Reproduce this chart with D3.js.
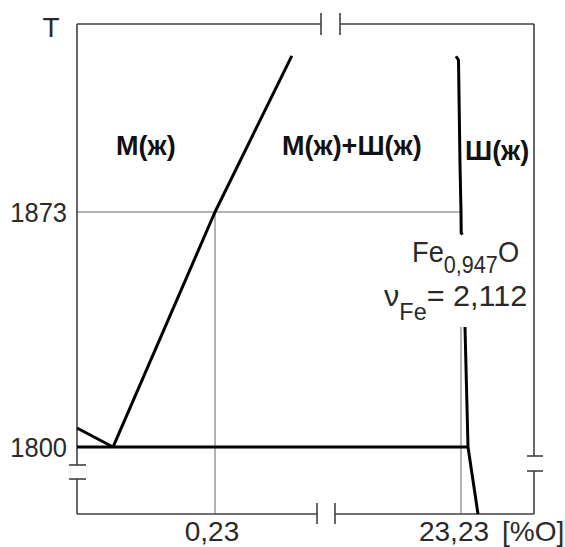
<!DOCTYPE html>
<html><head><meta charset="UTF-8">
<script src="https://d3js.org/d3.v7.min.js"></script>
<style>
body{margin:0;background:#fff}
svg{display:block}
.frame{fill:none;stroke:#404040;stroke-width:1.6}
.guide{fill:none;stroke:#9a9a9a;stroke-width:1.5}
.curve{fill:none;stroke:#000;stroke-width:3;stroke-linejoin:round}
.lbl{font-family:"Liberation Sans",Arial,sans-serif;font-size:28px;fill:#2a2a2a}
.phase{font-family:"Liberation Sans",Arial,sans-serif;font-size:27px;font-weight:bold;fill:#111}
</style></head><body><div id="chart"></div><script>
// temperature ticks (K) and composition ticks (% O)
const tempTicks = [1800, 1873];
const compTicks = [0.23, 23.23];
const compUnit = "[%O]";

// phase boundaries, [%O, T]
const solidusLeft = [[0, 1805.9], [0.06, 1800]];
const liquidus = [[0.06, 1800], [0.23, 1873], [0.358, 1921.5]];
const monotectic = [[0, 1800], [23.30, 1800]];
const slagUpper = [[23.18, 1921.4], [23.205, 1920.2], [23.22, 1887.8], [23.23, 1873], [23.232, 1866.5], [23.245, 1866]];
const slagLower = [[23.27, 1837.3], [23.30, 1800], [23.40, 1779.2]];

// guide lines through the 1873 K points
const guide1873 = [[0, 1873], [23.23, 1873]];
const guideLeft = [[0.23, 1873], [0.23, 1779.2]];
const guideRight = [[23.23, 1837.3], [23.23, 1779.2]];

const W = 565, H = 547;
const L = 77, R = 534, T = 24, B = 514;

const svg = d3.select("#chart").append("svg").attr("width", W).attr("height", H);

// broken x axis: low-oxygen metal side, then slag side
const x = d3.scaleLinear().domain([0, 0.41, 22.0, 23.96]).range([L, 323, 338, R]);
const y = d3.scaleLinear().domain([1931.4, 1779.2]).range([T, B]);
const line = d3.line().x(d => x(d[0])).y(d => y(d[1]));

// text squeezed a little sideways, like the narrow font of the original
const label = (px, py, anchor, k = 0.9) => svg.append("g")
  .attr("transform", `translate(${px},${py}) scale(${k},1)`)
  .append("text").attr("class", "lbl").attr("text-anchor", anchor);

// guides first, under the curves
for (const g of [guide1873, guideLeft, guideRight]) {
  svg.append("path").attr("class", "guide").attr("d", line(g));
}

// frame with break marks
const f = svg.append("g");
const seg = (x1, y1, x2, y2) => f.append("line").attr("class", "frame")
  .attr("x1", x1).attr("y1", y1).attr("x2", x2).attr("y2", y2);
// top
seg(L, T, 321, T); seg(340, T, R, T);
seg(321, 13, 321, 35); seg(340, 13, 340, 35);
// bottom
seg(L, B, 317, B); seg(335, B, R, B);
seg(317, 503, 317, 524); seg(335, 503, 335, 524);
// left
seg(L, T, L, 465); seg(L, 479, L, B);
seg(69, 465, 86, 465); seg(69, 479, 86, 479);
// right
seg(R, T, R, 456); seg(R, 471, R, B);
seg(527, 456, 543, 456); seg(527, 471, 543, 471);

// phase boundaries
for (const c of [solidusLeft, liquidus, slagUpper, slagLower]) {
  svg.append("path").attr("class", "curve").attr("d", line(c));
}
svg.append("path").attr("class", "curve").attr("stroke-width", 3.5).attr("d", line(monotectic));

// tick labels
for (const t of tempTicks) label(67, y(t) + 10, "end", 0.91).text(t);
const xOff = [-3, -7];
compTicks.forEach((t, i) => label(x(t) + xOff[i], 541, "middle", 1.0)
  .attr("font-size", 27).text(String(t).replace(".", ",")));
label(502, 541, "start", 1.0).attr("font-size", 27).text(compUnit);
label(51, 37, "middle", 1).text("T");

// phase regions
svg.append("text").attr("class", "phase").attr("x", 116).attr("y", 155).text("M(ж)");
svg.append("text").attr("class", "phase").attr("x", 282).attr("y", 155).text("M(ж)+Ш(ж)");
svg.append("text").attr("class", "phase").attr("x", 465).attr("y", 160).text("Ш(ж)");

// wustite composition
const fe = label(412, 262, "start", 0.94);
fe.append("tspan").attr("font-size", 29).text("Fe");
fe.append("tspan").attr("dy", 11).attr("font-size", 23).text("0,947");
fe.append("tspan").attr("dy", -11).attr("font-size", 29).text("O");

const nu = label(384, 306, "start", 1.02);
nu.append("tspan").attr("font-size", 30).text("ν");
nu.append("tspan").attr("dy", 14).attr("font-size", 23).text("Fe");
nu.append("tspan").attr("dy", -14).attr("font-size", 30).text("= 2,112");
</script></body></html>
